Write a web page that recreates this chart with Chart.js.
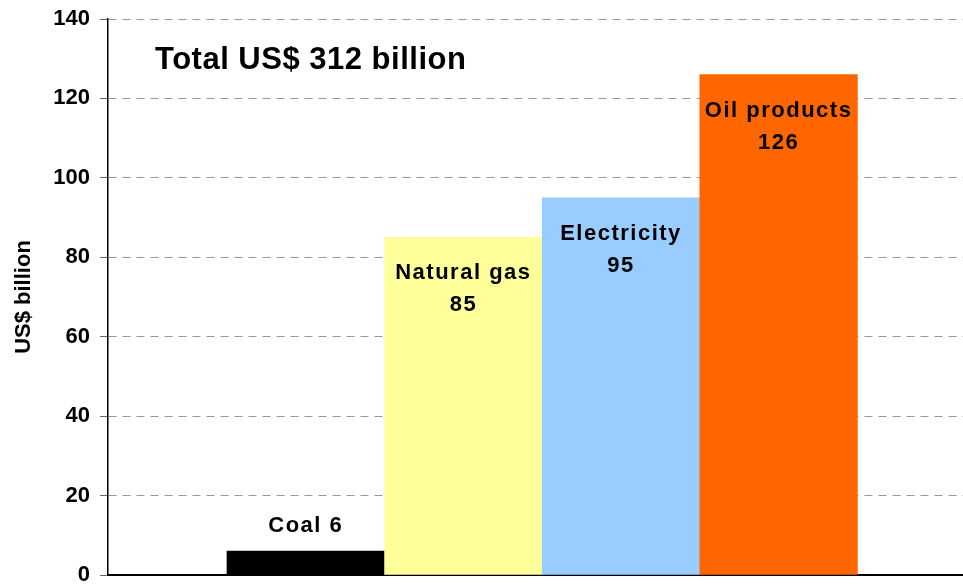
<!DOCTYPE html>
<html>
<head>
<meta charset="utf-8">
<script src="https://cdn.jsdelivr.net/npm/chart.js@4"></script>
<style>
  html, body { margin: 0; padding: 0; background: #fff; }
  #wrap { width: 963px; height: 584px; }
</style>
</head>
<body>
<div id="wrap"><canvas id="chart"></canvas></div>
<script>
const categories = ['Coal', 'Natural gas', 'Electricity', 'Oil products'];
const values = [6, 85, 95, 126];
const colors = ['#000000', '#FFFF99', '#99CCFF', '#FF6600'];
const yTicks = [0, 20, 40, 60, 80, 100, 120, 140];
const totalText = 'Total US$ 312 billion';

const ctx = document.getElementById('chart').getContext('2d');
const FONT = '"Liberation Sans", Arial, sans-serif';

// text labels inside / above the bars
const barLabels = {
  id: 'barLabels',
  afterDatasetsDraw(chart) {
    const c = chart.ctx;
    const meta = chart.getDatasetMeta(0);
    c.save();
    c.fillStyle = '#000';
    c.font = 'bold 22px ' + FONT;
    c.letterSpacing = '1.5px';
    c.textAlign = 'center';
    c.textBaseline = 'middle';
    meta.data.forEach((bar, i) => {
      if (values[i] < 20) {
        c.fillText(categories[i] + ' ' + values[i], bar.x, bar.y - 25);
      } else {
        c.fillText(categories[i], bar.x, bar.y + 36);
        c.fillText(String(values[i]), bar.x, bar.y + 68);
      }
    });
    // total text in the top left of the plot
    c.font = 'bold 31px ' + FONT;
    c.letterSpacing = '0.5px';
    c.textAlign = 'left';
    c.fillText(totalText, chart.chartArea.left + 47, chart.chartArea.top + 41);
    c.restore();
  }
};

const myChart = new Chart(ctx, {
  type: 'bar',
  data: {
    datasets: [{
      data: values.map((v, i) => ({ x: i + 1, y: v })),
      backgroundColor: colors,
      borderWidth: 0,
      barPercentage: 1,
      categoryPercentage: 1
    }]
  },
  options: {
    responsive: true,
    maintainAspectRatio: false,
    animation: false,
    layout: { padding: { top: 19, right: 0, bottom: 9, left: 0 } },
    plugins: {
      legend: { display: false },
      tooltip: { enabled: false }
    },
    scales: {
      x: {
        type: 'linear',
        offset: false,
        min: -0.255,
        max: 5.17,
        ticks: { display: false },
        grid: { display: false, drawTicks: false },
        border: { color: '#000', width: 2 }
      },
      y: {
        min: 0,
        max: 140,
        afterBuildTicks(axis) { axis.ticks = yTicks.map(v => ({ value: v })); },
        afterFit(axis) {
          axis.width = 108;
          axis.paddingTop = 0;
          axis.paddingBottom = 0;
        },
        ticks: {
          color: '#000',
          padding: 10,
          font: { family: FONT, size: 22, weight: 'bold' }
        },
        grid: { color: '#999', tickColor: '#666', tickLength: 8, lineWidth: 1 },
        border: { color: '#000', width: 1.5, dash: [8, 6] },
        title: {
          display: true,
          text: 'US$ billion',
          color: '#000',
          padding: { top: 11, bottom: 0 },
          font: { family: FONT, size: 22, weight: 'bold' }
        }
      }
    }
  },
  plugins: [barLabels]
});
</script>
</body>
</html>
